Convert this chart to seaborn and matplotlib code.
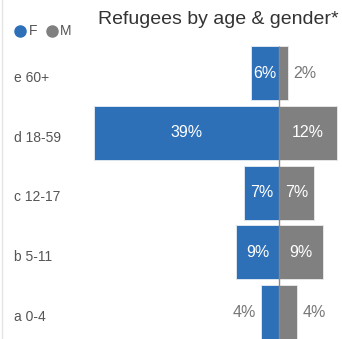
import matplotlib
matplotlib.use("Agg")
import matplotlib.pyplot as plt
from matplotlib.lines import Line2D
import matplotlib.transforms as mtransforms
import seaborn as sns
import pandas as pd

categories = ["e 60+", "d 18-59", "c 12-17", "b 5-11", "a 0-4"]
female = [6.0, 39.0, 7.4, 9.1, 3.7]
male = [1.9, 12.2, 7.4, 9.3, 3.9]
title = "Refugees by age & gender*"
series_names = ["F", "M"]

BLUE = "#2e70b8"
GRAY = "#808080"

sns.set_theme(style="white")
plt.rcParams["font.family"] = ["Liberation Sans", "DejaVu Sans"]

df = pd.DataFrame({"cat": categories, "F": [-v for v in female], "M": male})

fig = plt.figure(figsize=(3.42, 3.39), dpi=100)
ax = fig.add_axes([0, 0, 1, 1])

sns.barplot(data=df, y="cat", x="F", color=BLUE, orient="h", width=0.9,
            edgecolor="#dde6f0", linewidth=0.7, saturation=1, ax=ax)
sns.barplot(data=df, y="cat", x="M", color=GRAY, orient="h", width=0.9,
            edgecolor="#e6e6e6", linewidth=0.7, saturation=1, ax=ax)

scale = 4.74  # px per percent
ax.set_xlim(-279 / scale, (342 - 279) / scale)
ax.set_ylim((339 - 73) / 59.8, -73 / 59.8)
ax.set_axis_off()

# center line
ax.vlines(0, -0.45, len(categories) + 1, color="#888888", lw=1, zorder=5)

# value labels
pad = 5 / scale
for i, (f, m) in enumerate(zip(female, male)):
    fl = f"{round(f):d}%"
    ml = f"{round(m):d}%"
    if f >= 5:
        ax.text(-f / 2, i, fl, ha="center", va="center", color="white", fontsize=11.5, zorder=6)
    else:
        ax.text(-f - pad, i, fl, ha="right", va="center", color="#777777", fontsize=11.5, zorder=6)
    if m >= 5:
        ax.text(m / 2, i, ml, ha="center", va="center", color="white", fontsize=11.5, zorder=6)
    else:
        ax.text(m + pad, i, ml, ha="left", va="center", color="#777777", fontsize=11.5, zorder=6)

# category labels
trans = mtransforms.blended_transform_factory(fig.transFigure, ax.transData)
for i, c in enumerate(categories):
    ax.text(14 / 342, i + 0.08, c, transform=trans, ha="left", va="center",
            color="#555555", fontsize=10)

# title
fig.text(339 / 342, 1 - 19 / 339, title, ha="right", va="center", color="#333333", fontsize=14)

# legend
ly = 1 - 31 / 339
fig.add_artist(Line2D([20 / 342], [ly], marker="o", markersize=8, color=BLUE, transform=fig.transFigure))
fig.text(29 / 342, ly, series_names[0], ha="left", va="center", color="#555555", fontsize=10)
fig.add_artist(Line2D([52 / 342], [ly], marker="o", markersize=8, color=GRAY, transform=fig.transFigure))
fig.text(60 / 342, ly, series_names[1], ha="left", va="center", color="#555555", fontsize=10)

# faint left border
fig.add_artist(Line2D([1.5 / 342, 1.5 / 342], [0, 1], color="#e4e4e4", lw=1, transform=fig.transFigure))

fig.savefig("out.png", dpi=100)
